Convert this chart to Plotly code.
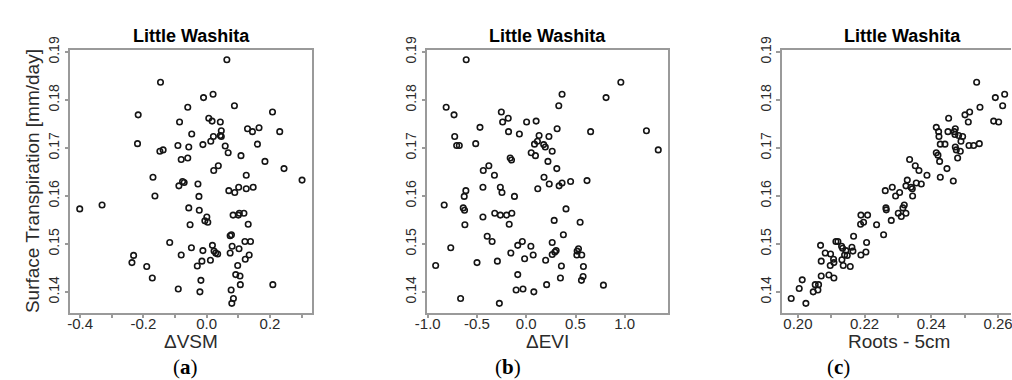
import plotly.graph_objects as go

# ---------------- data ----------------
dvsm = [0.0637, -0.1459, 0.0201, -0.0100, -0.0598, 0.0876, 0.2079, -0.2164, 0.0066, 0.0170,
        0.0430, -0.0857, 0.1290, 0.1653, 0.1446, 0.2307, 0.0461, -0.0473, 0.0212, 0.0430,
        0.0461, 0.0129, -0.2185, -0.0909, -0.0566, -0.0120, 0.0585, 0.1602, -0.1479, -0.1376,
        0.0678, 0.1083, -0.0805, -0.0598, 0.1840, 0.0367, 0.0222, 0.2442, -0.1697, 0.1249,
        0.3012,
        -0.0763, -0.0712, -0.0276, -0.0878, 0.0699, 0.0886, 0.1010, 0.1249, 0.1467, -0.1635,
        -0.0245, -0.4010, -0.3305, -0.0566, -0.0234, 0.0834, 0.1000, 0.1031, 0.1176, 0.0004,
        -0.0058, 0.0035, -0.0525, 0.1311, 0.0741, 0.0782, -0.1168, 0.0181, 0.0803, 0.1207,
        0.1384, -0.0483, 0.1021, -0.0120, 0.0232, 0.0284, 0.0346, 0.0741, -0.2309, -0.0805,
        0.1342, -0.2361, -0.0151, 0.0118, 0.1218, -0.1894, -0.0297, 0.0979, -0.1718, -0.0183,
        0.0917, 0.1052, -0.0898, -0.0214, 0.0772, 0.1062, 0.2089, 0.0844, 0.0793]
st_a = [0.1884, 0.1837, 0.1812, 0.1805, 0.1785, 0.1788, 0.1775, 0.1769, 0.1762, 0.1756,
        0.1754, 0.1754, 0.1740, 0.1742, 0.1734, 0.1734, 0.1736, 0.1729, 0.1724, 0.1726,
        0.1724, 0.1714, 0.1709, 0.1705, 0.1702, 0.1707, 0.1704, 0.1708, 0.1693, 0.1696,
        0.1690, 0.1684, 0.1676, 0.1679, 0.1672, 0.1663, 0.1653, 0.1657, 0.1639, 0.1643,
        0.1633,
        0.1630, 0.1628, 0.1625, 0.1621, 0.1611, 0.1607, 0.1618, 0.1615, 0.1618, 0.1600,
        0.1599, 0.1573, 0.1581, 0.1575, 0.1570, 0.1560, 0.1560, 0.1564, 0.1564, 0.1556,
        0.1548, 0.1545, 0.1540, 0.1541, 0.1517, 0.1519, 0.1503, 0.1497, 0.1495, 0.1505,
        0.1505, 0.1492, 0.1490, 0.1486, 0.1485, 0.1481, 0.1479, 0.1481, 0.1476, 0.1477,
        0.1477, 0.1461, 0.1464, 0.1466, 0.1468, 0.1453, 0.1454, 0.1455, 0.1429, 0.1424,
        0.1436, 0.1433, 0.1406, 0.1400, 0.1404, 0.1415, 0.1415, 0.1386, 0.1376]

devi = [-0.6100, 0.9600, 0.3633, 0.8100, -0.8133, 0.3300, -0.2533, -0.7333, -0.1833, -0.2400,
        0.0033, 0.1000, -0.4700, 0.3133, -0.1800, 0.6533, 1.2200, -0.0700, -0.7267, 0.1300,
        0.2300, 0.1133, 0.0833, -0.5133, -0.7067, -0.6800, 0.1767, 0.1933, 1.3400, 0.2633,
        0.0500, 0.0933, -0.1633, -0.1500, 0.2200, -0.3800, -0.4367, 0.3100, -0.3233, 0.1800,
        0.2333, 0.3333, 0.3633, 0.4500, 0.6167, -0.4400, -0.2633, -0.6133, -0.2467, 0.1167,
        -0.6300, -0.1200, -0.8333, -0.6400, -0.6267, 0.4033, -0.4400, -0.3200, -0.2633, -0.2000,
        -0.1467, 0.2833, 0.5467, -0.6233, -0.1733, 0.3767, -0.3967, -0.3467, -0.7667, -0.0400,
        -0.0867, 0.0467, 0.2633, 0.5300, 0.5167, -0.1567, 0.0700, 0.2633, 0.2900, 0.3033,
        0.5133, 0.5633, -0.0167, 0.1967, -0.9200, -0.5000, -0.2933, 0.3567, 0.5800, -0.0867,
        0.3467, 0.5767, 0.5600, 0.2067, 0.7833, -0.1033, -0.0333, 0.0767, -0.6667, -0.2733]
st_b = [0.1884, 0.1837, 0.1812, 0.1805, 0.1785, 0.1788, 0.1775, 0.1769, 0.1762, 0.1754,
        0.1754, 0.1756, 0.1743, 0.1740, 0.1734, 0.1734, 0.1736, 0.1729, 0.1724, 0.1726,
        0.1724, 0.1714, 0.1708, 0.1709, 0.1705, 0.1705, 0.1707, 0.1702, 0.1696, 0.1693,
        0.1690, 0.1684, 0.1679, 0.1675, 0.1672, 0.1663, 0.1653, 0.1657, 0.1643, 0.1639,
        0.1625, 0.1621, 0.1627, 0.1630, 0.1632, 0.1618, 0.1618, 0.1611, 0.1607, 0.1615,
        0.1599, 0.1599, 0.1581, 0.1575, 0.1570, 0.1573, 0.1556, 0.1564, 0.1560, 0.1560,
        0.1564, 0.1549, 0.1545, 0.1540, 0.1541, 0.1519, 0.1516, 0.1505, 0.1492, 0.1505,
        0.1497, 0.1495, 0.1503, 0.1490, 0.1485, 0.1481, 0.1477, 0.1478, 0.1483, 0.1486,
        0.1477, 0.1477, 0.1469, 0.1466, 0.1455, 0.1461, 0.1464, 0.1454, 0.1453, 0.1436,
        0.1429, 0.1432, 0.1424, 0.1415, 0.1414, 0.1404, 0.1406, 0.1400, 0.1386, 0.1376]

roots = [0.2536, 0.2620, 0.2592, 0.2614, 0.2546, 0.2515, 0.2501, 0.2452, 0.2511, 0.2587,
         0.2602, 0.2415, 0.2422, 0.2450, 0.2472, 0.2469, 0.2471, 0.2482, 0.2494, 0.2423,
         0.2489, 0.2427, 0.2441, 0.2513, 0.2527, 0.2544, 0.2472, 0.2475, 0.2487, 0.2415,
         0.2420, 0.2479, 0.2425, 0.2335, 0.2352, 0.2363, 0.2447, 0.2387, 0.2427, 0.2328,
         0.2466,
         0.2355, 0.2370, 0.2324, 0.2339, 0.2343, 0.2283, 0.2305, 0.2262, 0.2293, 0.2344,
         0.2319, 0.2315, 0.2264, 0.2265, 0.2301, 0.2324, 0.2310, 0.2280, 0.2189, 0.2209,
         0.2188, 0.2197, 0.2236, 0.2257, 0.2167, 0.2068, 0.2114, 0.2120, 0.2131, 0.2134,
         0.2144, 0.2162, 0.2165, 0.2206, 0.2082, 0.2098, 0.2140, 0.2148, 0.2189, 0.2204,
         0.2070, 0.2107, 0.2108, 0.2132, 0.2097, 0.2136, 0.2157, 0.2070, 0.2093, 0.2108,
         0.2013, 0.2052, 0.2062, 0.2004, 0.2060, 0.2046, 0.1980, 0.2024]
st_c = [0.1837, 0.1812, 0.1805, 0.1788, 0.1785, 0.1775, 0.1769, 0.1762, 0.1754, 0.1756,
        0.1754, 0.1743, 0.1734, 0.1734, 0.1740, 0.1734, 0.1728, 0.1726, 0.1724, 0.1724,
        0.1714, 0.1708, 0.1708, 0.1705, 0.1705, 0.1709, 0.1702, 0.1696, 0.1693, 0.1690,
        0.1685, 0.1679, 0.1672, 0.1676, 0.1663, 0.1653, 0.1657, 0.1643, 0.1639, 0.1633,
        0.1631,
        0.1627, 0.1625, 0.1621, 0.1618, 0.1615, 0.1618, 0.1607, 0.1611, 0.1600, 0.1600,
        0.1581, 0.1575, 0.1575, 0.1571, 0.1564, 0.1564, 0.1557, 0.1549, 0.1560, 0.1560,
        0.1541, 0.1545, 0.1540, 0.1519, 0.1516, 0.1497, 0.1505, 0.1505, 0.1495, 0.1491,
        0.1486, 0.1493, 0.1485, 0.1503, 0.1481, 0.1479, 0.1477, 0.1476, 0.1477, 0.1483,
        0.1464, 0.1468, 0.1461, 0.1467, 0.1455, 0.1455, 0.1453, 0.1433, 0.1435, 0.1429,
        0.1425, 0.1415, 0.1415, 0.1407, 0.1404, 0.1400, 0.1386, 0.1376]

panel_title = "Little Washita"
y_title = "Surface Transpiration [mm/day]"
x_titles = ["ΔVSM", "ΔEVI", "Roots - 5cm"]
sub_labels = ["a", "b", "c"]
y_ticks = [0.14, 0.15, 0.16, 0.17, 0.18, 0.19]
xa_ticks = [-0.4, -0.3, -0.2, -0.1, 0.0, 0.1, 0.2, 0.3]
xa_labels = ["-0.4", "", "-0.2", "", "0.0", "", "0.2", ""]
xb_ticks = [-1.0, -0.5, 0.0, 0.5, 1.0]
xb_labels = ["-1.0", "-0.5", "0.0", "0.5", "1.0"]
xc_ticks = [0.20, 0.21, 0.22, 0.23, 0.24, 0.25, 0.26]
xc_labels = ["0.20", "", "0.22", "", "0.24", "", "0.26"]

# ---------------- layout geometry ----------------
W, H = 1012, 380
def px(x):
    return x / W
def py(y):
    return (H - y) / H

frames = [(58.3, 303.0), (420.3, 664.0), (780.0, 1012.0)]
top, bot = 37.5, 310.0
x_ranges = [[-0.4302, 0.332], [-1.003, 1.437], [0.1953, 0.2639]]
y_range = [0.13568, 0.19040]

FRAME = "#9a9a9a"
TXT = "#2b2b2b"
FONT = "Liberation Sans, Arial, sans-serif"

fig = go.Figure()
series = [(dvsm, st_a), (devi, st_b), (roots, st_c)]
for i, (xs, ys) in enumerate(series):
    fig.add_trace(go.Scatter(
        x=xs, y=ys, mode="markers",
        xaxis="x" if i == 0 else f"x{i+1}",
        yaxis="y" if i == 0 else f"y{i+1}",
        marker=dict(symbol="circle-open", size=5.5, color="#151515",
                    line=dict(width=1.6, color="#151515")),
        showlegend=False, hoverinfo="x+y"))

tick_sets = [(xa_ticks, xa_labels), (xb_ticks, xb_labels), (xc_ticks, xc_labels)]
layout = dict(width=W, height=H, margin=dict(l=0, r=0, t=0, b=0), autosize=False,
              paper_bgcolor="white", plot_bgcolor="white",
              font=dict(family=FONT, color=TXT))
for i in range(3):
    sfx = "" if i == 0 else str(i + 1)
    x0, x1 = frames[i]
    layout["xaxis" + sfx] = dict(
        domain=[px(x0), min(px(x1), 1.0)], range=x_ranges[i], anchor="y" + sfx,
        tickmode="array", tickvals=tick_sets[i][0], ticktext=tick_sets[i][1],
        ticks="outside", ticklen=4, tickwidth=1.5, tickcolor=FRAME,
        ticklabelstandoff=-7, ticklabeloverflow="allow",
        showline=True, linecolor=FRAME, linewidth=1.5, mirror=True,
        showgrid=False, zeroline=False,
        tickfont=dict(size=15, color=TXT, family=FONT))
    layout["yaxis" + sfx] = dict(
        domain=[py(bot), py(top)], range=y_range, anchor="x" + sfx,
        tickmode="array", tickvals=y_ticks, ticktext=[f"{v:.2f}" for v in y_ticks],
        tickangle=-90,
        ticks="outside", ticklen=4, tickwidth=1.5, tickcolor=FRAME,
        showline=True, linecolor=FRAME, linewidth=1.5, mirror=(i < 2),
        showgrid=False, zeroline=False,
        tickfont=dict(size=14, color=TXT, family=FONT))

anns = []
title_x = [180.5, 542.0, 902.0]
xt_x = [180.5, 542.0, 898.0]
sub_x = [175.0, 502.0, 837.0]
for i in range(3):
    anns.append(dict(text=f"<b>{panel_title}</b>", x=px(title_x[i]), y=py(23),
                     xref="paper", yref="paper", showarrow=False,
                     xanchor="center", yanchor="middle",
                     font=dict(size=18, color="#000000", family=FONT)))
    anns.append(dict(text=x_titles[i], x=px(xt_x[i]), y=py(340),
                     xref="paper", yref="paper", showarrow=False,
                     xanchor="center", yanchor="middle",
                     font=dict(size=19, color=TXT, family=FONT)))
    anns.append(dict(text=f"(<b>{sub_labels[i]}</b>)", x=px(sub_x[i]), y=py(366),
                     xref="paper", yref="paper", showarrow=False,
                     xanchor="center", yanchor="middle",
                     font=dict(size=21, color="#000000",
                               family="Liberation Serif, DejaVu Serif, serif")))
anns.append(dict(text=y_title, x=px(20), y=py((top + bot) / 2),
                 xref="paper", yref="paper", showarrow=False, textangle=-90,
                 xanchor="center", yanchor="middle",
                 font=dict(size=19, color=TXT, family=FONT)))
layout["annotations"] = anns
fig.update_layout(**layout)
fig.write_html("out.html")
